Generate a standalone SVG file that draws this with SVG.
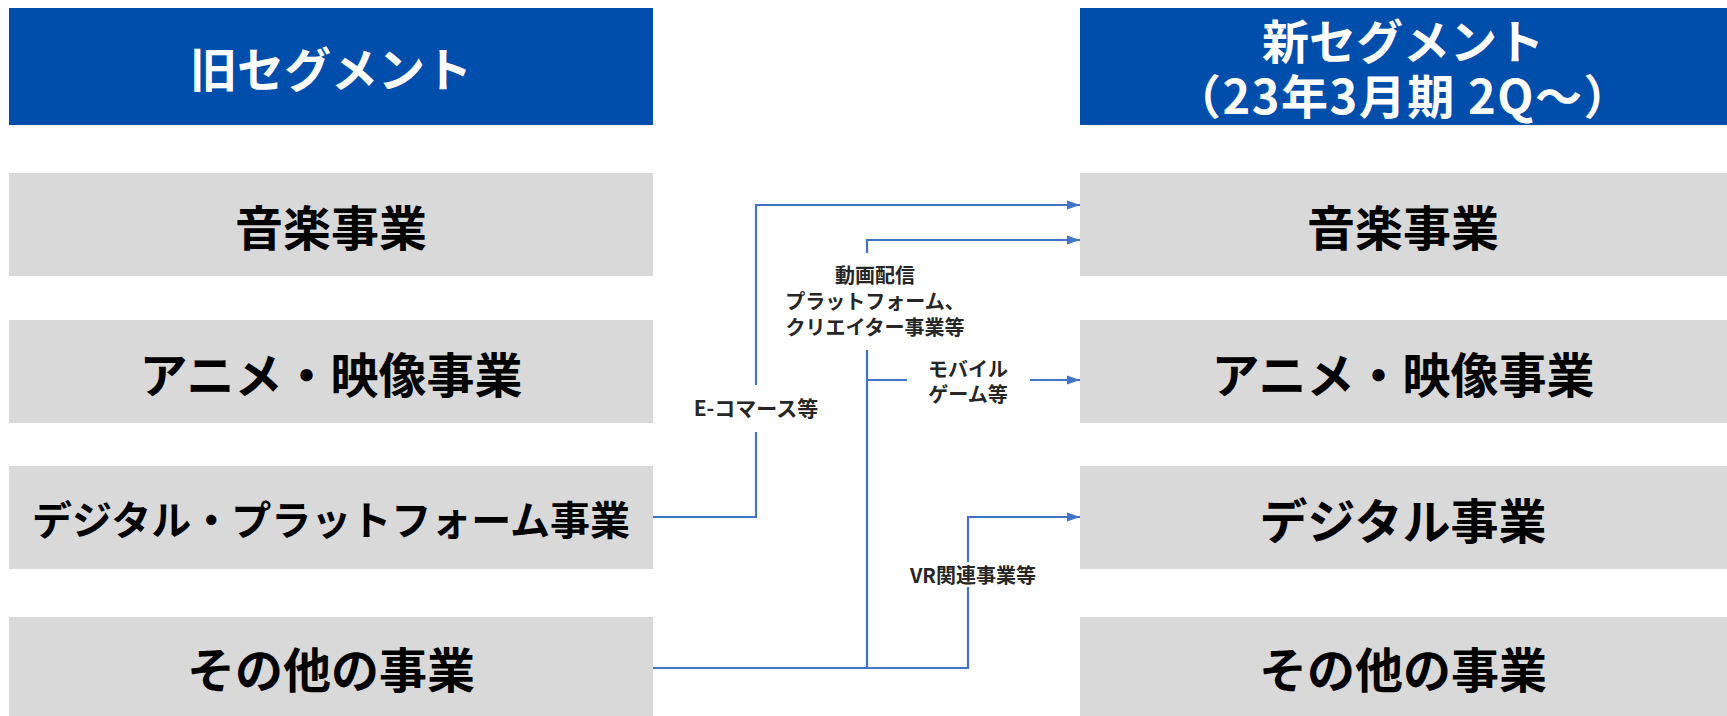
<svg xmlns="http://www.w3.org/2000/svg" width="1727" height="716" viewBox="0 0 1727 716">
<style>
text{font-family:"Noto Sans CJK JP","Noto Sans CJK SC",sans-serif;text-anchor:middle;dominant-baseline:central}
.hdr{fill:#004EAC}
.hdrt{fill:#ffffff;font-size:47px;font-weight:700}
.box{fill:#D9D9D9}
.boxt{fill:#000000;font-size:48px;font-weight:700}
.lbl{fill:#262626;font-size:20px;font-weight:700}
.ln{fill:none;stroke:#4472C4;stroke-width:2.2}
.bg{fill:#ffffff}
</style>
<defs>
<marker id="arr" markerUnits="userSpaceOnUse" markerWidth="13" markerHeight="10" refX="13" refY="5" orient="auto">
<path d="M0,0.5 L13,5 L0,9.5 z" fill="#4472C4"/>
</marker>
</defs>
<rect width="1727" height="716" fill="#ffffff"/>
<g id="old-header"><rect class="hdr" x="9" y="8" width="644" height="117"/><text class="hdrt" x="331" y="66">旧セグメント</text></g>
<g id="new-header"><rect class="hdr" x="1080" y="8" width="647" height="117"/><text class="hdrt" x="1403" y="38">新セグメント</text><text class="hdrt" x="1403" y="93" style="letter-spacing:1.5px">（23年3月期 2Q～）</text></g>
<g id="old-music"><rect class="box" x="9" y="173" width="644" height="103"/><text class="boxt" x="331" y="224.5">音楽事業</text></g>
<g id="old-anime"><rect class="box" x="9" y="320" width="644" height="103"/><text class="boxt" x="331" y="371.5">アニメ・映像事業</text></g>
<g id="old-digital"><rect class="box" x="9" y="466" width="644" height="103"/><text class="boxt" x="331" y="517.5" style="font-size:40px">デジタル・プラットフォーム事業</text></g>
<g id="old-other"><rect class="box" x="9" y="617" width="644" height="99"/><text class="boxt" x="331" y="666.5">その他の事業</text></g>
<g id="new-music"><rect class="box" x="1080" y="173" width="647" height="103"/><text class="boxt" x="1403" y="224.5">音楽事業</text></g>
<g id="new-anime"><rect class="box" x="1080" y="320" width="647" height="103"/><text class="boxt" x="1403" y="371.5">アニメ・映像事業</text></g>
<g id="new-digital"><rect class="box" x="1080" y="466" width="647" height="103"/><text class="boxt" x="1403" y="517.5">デジタル事業</text></g>
<g id="new-other"><rect class="box" x="1080" y="617" width="647" height="99"/><text class="boxt" x="1403" y="666.5">その他の事業</text></g>
<g id="connectors">
<path class="ln" d="M653,517 H756 V205 H1080" marker-end="url(#arr)"/>
<path class="ln" d="M653,668 H968 V517 H1080" marker-end="url(#arr)"/>
<path class="ln" d="M867,668 V240 H1080" marker-end="url(#arr)"/>
<path class="ln" d="M867,380 H1080" marker-end="url(#arr)"/>
</g>
<g id="labels">
<rect class="bg" x="690" y="385" width="134" height="47"/>
<text class="lbl" x="756" y="407" style="font-size:21px">E-コマース等</text>
<rect class="bg" x="778" y="253" width="196" height="97"/>
<text class="lbl" x="875" y="274">動画配信</text>
<text class="lbl" x="875" y="300">プラットフォーム、</text>
<text class="lbl" x="875" y="326">クリエイター事業等</text>
<rect class="bg" x="907" y="356" width="123" height="50"/>
<text class="lbl" x="968" y="368">モバイル</text>
<text class="lbl" x="968" y="393">ゲーム等</text>
<rect class="bg" x="904" y="562" width="138" height="25"/>
<text class="lbl" x="973" y="574">VR関連事業等</text>
</g>
</svg>
